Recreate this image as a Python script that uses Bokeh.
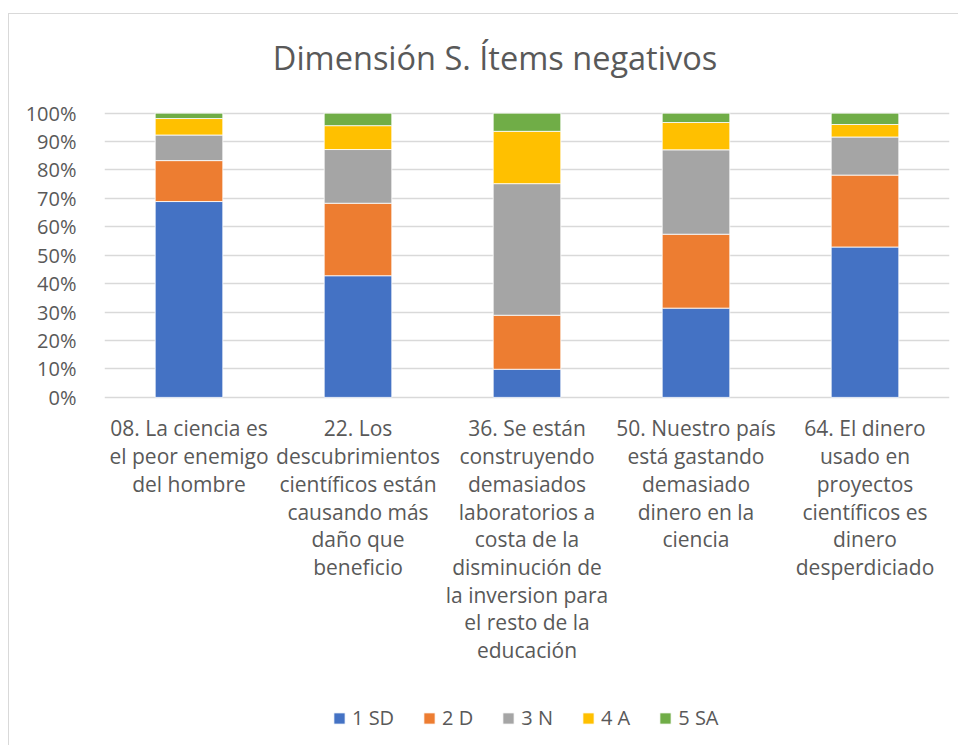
from bokeh.plotting import figure
from bokeh.models import Legend, LegendItem, NumeralTickFormatter, FixedTicker, ColumnDataSource, Label
from bokeh.core.properties import value
from bokeh.embed import file_html
from bokeh.resources import INLINE

title_text = "Dimensión S. Ítems negativos"
items = [
    "08. La ciencia es\nel peor enemigo\ndel hombre",
    "22. Los\ndescubrimientos\ncientíficos están\ncausando más\ndaño que\nbeneficio",
    "36. Se están\nconstruyendo\ndemasiados\nlaboratorios a\ncosta de la\ndisminución de\nla inversion para\nel resto de la\neducación",
    "50. Nuestro país\nestá gastando\ndemasiado\ndinero en la\nciencia",
    "64. El dinero\nusado en\nproyectos\ncientíficos es\ndinero\ndesperdiciado",
]
series_names = ["1 SD", "2 D", "3 N", "4 A", "5 SA"]
sd = [0.689, 0.428, 0.099, 0.314, 0.529]
d = [0.144, 0.255, 0.190, 0.260, 0.253]
n = [0.090, 0.189, 0.463, 0.297, 0.134]
a = [0.058, 0.084, 0.184, 0.096, 0.044]
sa = [0.019, 0.044, 0.064, 0.033, 0.040]
colors = ["#4472C4", "#ED7D31", "#A5A5A5", "#FFC000", "#70AD47"]
yticks = [0, 0.1, 0.2, 0.3, 0.4, 0.5, 0.6, 0.7, 0.8, 0.9, 1.0]

src = ColumnDataSource(dict(x=items, s1=sd, s2=d, s3=n, s4=a, s5=sa,
                            base=[0] * len(items)))
keys = ["s1", "s2", "s3", "s4", "s5"]

p = figure(x_range=items, y_range=(-1.2, 1.347), width=950, height=732,
           output_backend="svg", toolbar_location=None,
           min_border_left=95, min_border_right=10, min_border_top=0,
           min_border_bottom=8)
p.margin = (13, 0, 0, 8)
p.styles = {"border-left": "1px solid #D9D9D9", "border-top": "1px solid #D9D9D9"}

renderers = p.vbar_stack(keys, x="x", width=0.4, source=src, color=colors,
                         line_color="white", line_width=0.8)

# category labels under the bars
p.text(x="x", y="base", text="x", source=src, y_offset=17,
       text_align="center", text_baseline="top",
       text_font=value("Open Sans"), text_font_size="21px",
       text_color="#595959", text_line_height=0.99)

# chart title
p.add_layout(Label(x=2.5, y=1.196, x_offset=-32, text=title_text,
                   text_align="center", text_baseline="alphabetic",
                   text_font="Open Sans", text_font_size="32.5px",
                   text_color="#595959"))

p.yaxis.ticker = FixedTicker(ticks=yticks)
p.yaxis.formatter = NumeralTickFormatter(format="0%")
p.yaxis.axis_line_color = None
p.yaxis.major_tick_line_color = None
p.yaxis.minor_tick_line_color = None
p.yaxis.major_label_text_font = "Open Sans"
p.yaxis.major_label_text_font_size = "20px"
p.yaxis.major_label_text_color = "#595959"
p.yaxis.major_label_standoff = 22

p.xaxis.visible = False

p.xgrid.grid_line_color = None
p.ygrid.grid_line_color = "#D9D9D9"
p.ygrid.grid_line_width = 1.5
p.outline_line_color = None

legend = Legend(items=[LegendItem(label=nm, renderers=[r]) for nm, r in zip(series_names, renderers)],
                orientation="horizontal", location=(228, 7),
                label_text_font="Open Sans", label_text_font_size="20px",
                label_text_color="#595959", glyph_width=14, glyph_height=14,
                spacing=28, border_line_color=None, background_fill_alpha=0,
                margin=0, padding=4, label_standoff=6)
p.add_layout(legend, "center")

open("out.html", "w").write(file_html(p, INLINE))
